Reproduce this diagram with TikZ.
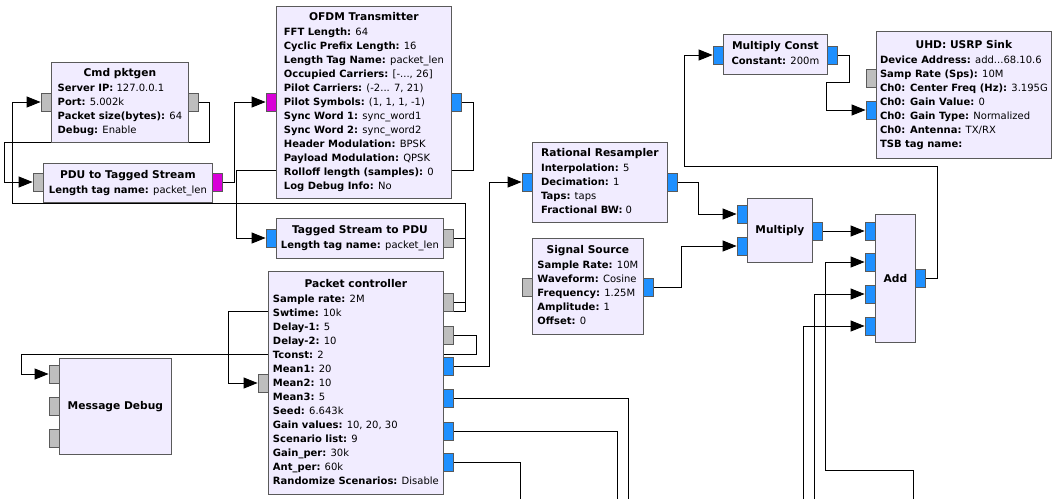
\documentclass[tikz,border=0pt]{standalone}
\usepackage{fontspec}
\setmainfont{DejaVu Sans}
\usetikzlibrary{arrows.meta, backgrounds}

\definecolor{blockfill}{HTML}{F1ECFF}
\definecolor{blockline}{HTML}{5A5A5A}
\definecolor{msgport}{HTML}{BEBEBE}
\definecolor{cplxport}{HTML}{1E90FF}
\definecolor{byteport}{HTML}{D800D8}

\newcommand{\kv}[2]{\textbf{#1:} #2}
\newcommand{\blkhead}[1]{\multicolumn{1}{@{}c@{}}{\fontsize{10.67}{14}\selectfont\bfseries #1}}

\begin{document}
\begin{tikzpicture}[
  x=1pt, y=-1pt,
  block/.style={rectangle, draw=blockline, fill=blockfill, line width=0.8pt,
                inner sep=0pt, anchor=north west,
                font=\fontsize{10}{14}\selectfont},
  port/.style={rectangle, draw=blockline, line width=0.8pt, inner sep=0pt,
               minimum width=10pt, minimum height=18pt},
  mport/.style={port, fill=msgport},
  cport/.style={port, fill=cplxport},
  bport/.style={port, fill=byteport},
  wire/.style={line width=0.9pt, -{Triangle[length=14pt, width=11pt]}},
  cutwire/.style={line width=0.9pt},
]
\useasboundingbox (0,0) rectangle (1060,499);

% ---- blocks ----
\node[block, minimum width=137pt, minimum height=80pt] (pktgen) at (51,62)
  {\begin{tabular}{@{}l@{}}\blkhead{Cmd pktgen}\\[1pt]
   \kv{Server IP}{127.0.0.1}\\ \kv{Port}{5.002k}\\
   \kv{Packet size(bytes)}{64}\\ \kv{Debug}{Enable}\end{tabular}};

\node[block, minimum width=169pt, minimum height=39pt] (pdu2ts) at (43,163)
  {\begin{tabular}{@{}l@{}}\blkhead{PDU to Tagged Stream}\\[1pt]
   \kv{Length tag name}{packet\_len}\end{tabular}};

\node[block, minimum width=175pt, minimum height=192pt] (ofdm) at (276,6)
  {\begin{tabular}{@{}l@{}}\blkhead{OFDM Transmitter}\\[1pt]
   \kv{FFT Length}{64}\\ \kv{Cyclic Prefix Length}{16}\\
   \kv{Length Tag Name}{packet\_len}\\ \kv{Occupied Carriers}{[-..., 26]}\\
   \kv{Pilot Carriers}{(-2... 7, 21)}\\ \kv{Pilot Symbols}{(1, 1, 1, -1)}\\
   \kv{Sync Word 1}{sync\_word1}\\ \kv{Sync Word 2}{sync\_word2}\\
   \kv{Header Modulation}{BPSK}\\ \kv{Payload Modulation}{QPSK}\\
   \kv{Rolloff length (samples)}{0}\\ \kv{Log Debug Info}{No}\end{tabular}};

\node[block, minimum width=167pt, minimum height=40pt] (ts2pdu) at (276,218)
  {\begin{tabular}{@{}l@{}}\blkhead{Tagged Stream to PDU}\\[1pt]
   \kv{Length tag name}{packet\_len}\end{tabular}};

\node[block, minimum width=175pt, minimum height=223pt] (pktctl) at (268,271)
  {\begin{tabular}{@{}l@{}}\blkhead{Packet controller}\\[1pt]
   \kv{Sample rate}{2M}\\ \kv{Swtime}{10k}\\ \kv{Delay-1}{5}\\
   \kv{Delay-2}{10}\\ \kv{Tconst}{2}\\ \kv{Mean1}{20}\\ \kv{Mean2}{10}\\
   \kv{Mean3}{5}\\ \kv{Seed}{6.643k}\\ \kv{Gain values}{10, 20, 30}\\
   \kv{Scenario list}{9}\\ \kv{Gain\_per}{30k}\\ \kv{Ant\_per}{60k}\\
   \kv{Randomize Scenarios}{Disable}\end{tabular}};

\node[block, minimum width=112pt, minimum height=96pt] (msgdbg) at (59,358)
  {\fontsize{10.67}{14}\selectfont\bfseries Message Debug};

\node[block, minimum width=135pt, minimum height=80pt] (resamp) at (532,142)
  {\begin{tabular}{@{}l@{}}\blkhead{Rational Resampler}\\[1pt]
   \kv{Interpolation}{5}\\ \kv{Decimation}{1}\\ \kv{Taps}{taps}\\
   \kv{Fractional BW}{0}\end{tabular}};

\node[block, minimum width=111pt, minimum height=96pt] (sigsrc) at (532,238)
  {\begin{tabular}{@{}l@{}}\blkhead{Signal Source}\\[1pt]
   \kv{Sample Rate}{10M}\\ \kv{Waveform}{Cosine}\\ \kv{Frequency}{1.25M}\\
   \kv{Amplitude}{1}\\ \kv{Offset}{0}\end{tabular}};

\node[block, minimum width=65pt, minimum height=64pt] (mult) at (747,198)
  {\fontsize{10.67}{14}\selectfont\bfseries Multiply};

\node[block, minimum width=40pt, minimum height=128pt] (add) at (875,214)
  {\fontsize{10.67}{14}\selectfont\bfseries Add};

\node[block, minimum width=104pt, minimum height=40pt] (mulconst) at (723,34)
  {\begin{tabular}{@{}l@{}}\blkhead{Multiply Const}\\[1pt]
   \kv{Constant}{200m}\end{tabular}};

\node[block, minimum width=175pt, minimum height=127pt] (usrp) at (876,31)
  {\begin{tabular}{@{}l@{}}\blkhead{UHD: USRP Sink}\\[1pt]
   \kv{Device Address}{add...68.10.6}\\ \kv{Samp Rate (Sps)}{10M}\\
   \kv{Ch0: Center Freq (Hz)}{3.195G}\\ \kv{Ch0: Gain Value}{0}\\
   \kv{Ch0: Gain Type}{Normalized}\\ \kv{Ch0: Antenna}{TX/RX}\\
   \textbf{TSB tag name:}\end{tabular}};

% ---- ports ----
\node[mport] (pktgen-in)  at (46,102) {};
\node[mport] (pktgen-out) at (193,102) {};
\node[mport] (pdu2ts-in)  at (38,182) {};
\node[bport] (pdu2ts-out) at (217,182) {};
\node[bport] (ofdm-in)    at (271,102) {};
\node[cport] (ofdm-out)   at (456,102) {};
\node[cport] (ts2pdu-in)  at (271,238) {};
\node[mport] (ts2pdu-out) at (448,238) {};
\node[mport] (pktctl-in)  at (263,383) {};
\node[mport] (pktctl-m1)  at (448,302) {};
\node[mport] (pktctl-m2)  at (448,335) {};
\node[cport] (pktctl-c1)  at (448,366) {};
\node[cport] (pktctl-c2)  at (448,398) {};
\node[cport] (pktctl-c3)  at (448,431) {};
\node[cport] (pktctl-c4)  at (448,462) {};
\node[mport] (msgdbg-in1) at (54,374) {};
\node[mport] (msgdbg-in2) at (54,406) {};
\node[mport] (msgdbg-in3) at (54,438) {};
\node[cport] (resamp-in)  at (527,182) {};
\node[cport] (resamp-out) at (672,182) {};
\node[mport] (sigsrc-in)  at (527,287) {};
\node[cport] (sigsrc-out) at (648,287) {};
\node[cport] (mult-in1)   at (742,214) {};
\node[cport] (mult-in2)   at (742,246) {};
\node[cport] (mult-out)   at (817,231) {};
\node[cport] (add-in1)    at (870,231) {};
\node[cport] (add-in2)    at (870,262) {};
\node[cport] (add-in3)    at (870,294) {};
\node[cport] (add-in4)    at (870,326) {};
\node[cport] (add-out)    at (920,278) {};
\node[cport] (mulconst-in)  at (718,55) {};
\node[cport] (mulconst-out) at (832,55) {};
\node[mport] (usrp-in1)   at (871,78) {};
\node[cport] (usrp-in2)   at (871,110) {};

% wires leaving the bottom edge
\coordinate (cutA) at (628,499);
\coordinate (cutB) at (617,499);
\coordinate (cutC) at (520,499);
\coordinate (cutD) at (913,499);
\coordinate (cutE) at (814,499);
\coordinate (cutF) at (803,499);

% ---- connections ----
\begin{scope}[on background layer]
\draw[wire] (pktgen-out) -- (209,102) -- (209,142) -- (4,142) |- (pdu2ts-in);
\draw[wire] (pktctl-m1) -- (465,302) -- (465,203) -- (12,203) |- (pktgen-in);
\draw[wire] (ts2pdu-out) -- (465,238) -- (465,311) -- (228,311) |- (pktctl-in);
\draw[wire] (pktctl-m2) -- (476,335) -- (476,354) -- (21,354) |- (msgdbg-in1);
\draw[wire] (pktctl-c1) -- (489,366) |- (resamp-in);
\draw[wire] (pdu2ts-out) -- (234,182) |- (ofdm-in);
\draw[wire] (ofdm-out) -- (473,102) -- (473,170) -- (236,170) |- (ts2pdu-in);
\draw[wire] (resamp-out) -- (698,182) |- (mult-in1);
\draw[wire] (sigsrc-out) -- (681,287) |- (mult-in2);
\draw[wire] (mult-out) -- (add-in1);
\draw[wire] (add-out) -- (937,278) -- (937,166) -- (684,166) |- (mulconst-in);
\draw[wire] (mulconst-out) -- (849,55) -- (849,82) -- (826,82) |- (usrp-in2);
\draw[cutwire] (pktctl-c2) -- (628,398) -- (cutA);
\draw[cutwire] (pktctl-c3) -- (617,431) -- (cutB);
\draw[cutwire] (pktctl-c4) -- (520,462) -- (cutC);
\draw[wire] (cutD) -- (913,470) -- (825,470) |- (add-in2);
\draw[wire] (cutE) |- (add-in3);
\draw[wire] (cutF) |- (add-in4);
\end{scope}

\end{tikzpicture}
\end{document}
